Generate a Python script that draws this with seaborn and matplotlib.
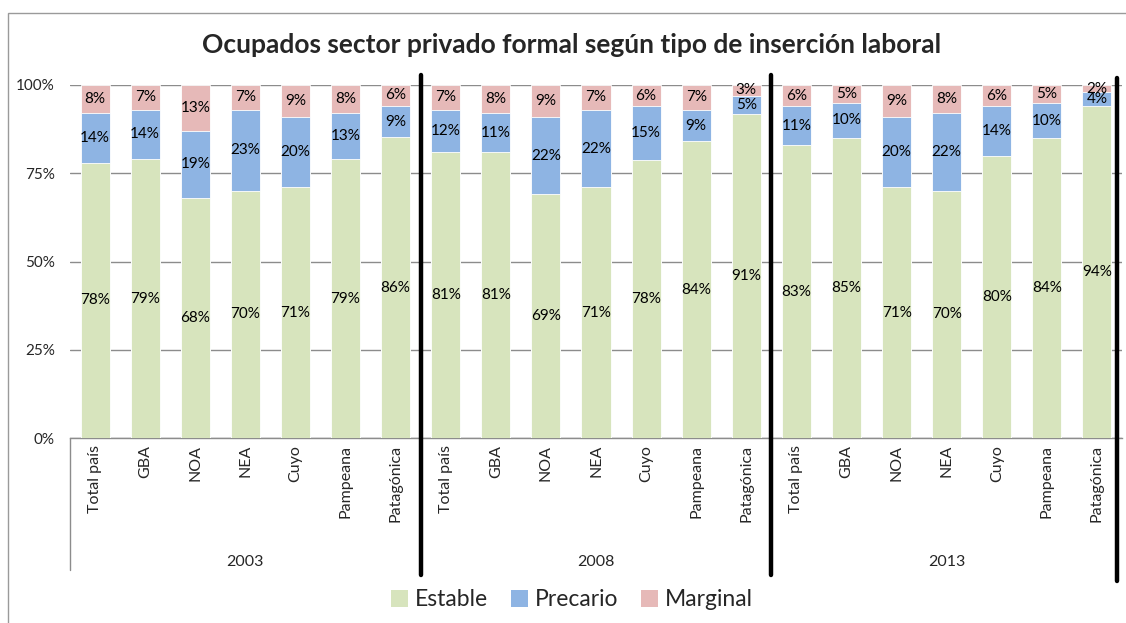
import numpy as np
import pandas as pd
import matplotlib
matplotlib.use("Agg")
import matplotlib.pyplot as plt
import seaborn as sns
from matplotlib.patches import Patch, Rectangle
from matplotlib.lines import Line2D

# ---------------- data ----------------
years = ["2003", "2008", "2013"]
regions = ["Total país", "GBA", "NOA", "NEA", "Cuyo", "Pampeana", "Patagónica"]
series = ["Estable", "Precario", "Marginal"]

estable_2003 = [78, 79, 68, 70, 71, 79, 86]
precario_2003 = [14, 14, 19, 23, 20, 13, 9]
marginal_2003 = [8, 7, 13, 7, 9, 8, 6]

estable_2008 = [81, 81, 69, 71, 78, 84, 91]
precario_2008 = [12, 11, 22, 22, 15, 9, 5]
marginal_2008 = [7, 8, 9, 7, 6, 7, 3]

estable_2013 = [83, 85, 71, 70, 80, 84, 94]
precario_2013 = [11, 10, 20, 22, 14, 10, 4]
marginal_2013 = [6, 5, 9, 8, 6, 5, 2]

yticks = [0, 25, 50, 75, 100]
ytick_labels = ["0%", "25%", "50%", "75%", "100%"]

title = "Ocupados sector privado formal según tipo de inserción laboral"

colors = {"Estable": "#D7E4BD", "Precario": "#8EB4E3", "Marginal": "#E6B9B8"}

# ---------------- build table (100% stacked) ----------------
est = {"2003": estable_2003, "2008": estable_2008, "2013": estable_2013}
pre = {"2003": precario_2003, "2008": precario_2008, "2013": precario_2013}
mar = {"2003": marginal_2003, "2008": marginal_2008, "2013": marginal_2013}

rows = []
for y in years:
    for i, r in enumerate(regions):
        rows.append({"key": f"{y}|{r}", "year": y, "region": r,
                     "Estable": est[y][i], "Precario": pre[y][i], "Marginal": mar[y][i]})
df = pd.DataFrame(rows)
tot = df["Estable"] + df["Precario"] + df["Marginal"]
df["cum_est"] = df["Estable"] / tot * 100
df["cum_pre"] = (df["Estable"] + df["Precario"]) / tot * 100
df["cum_mar"] = 100.0 * tot / tot
order = list(df["key"])

# ---------------- style ----------------
sns.set_theme(style="white")
plt.rcParams["font.family"] = ["Lato", "DejaVu Sans"]

fig = plt.figure(figsize=(11.26, 6.23), dpi=100)
ax = fig.add_axes([70 / 1126, 1 - 438 / 623, 1052 / 1126, 353 / 623])

bw = 0.58
for col, s in [("cum_mar", "Marginal"), ("cum_pre", "Precario"), ("cum_est", "Estable")]:
    sns.barplot(data=df, x="key", y=col, order=order, color=colors[s], saturation=1,
                width=bw, edgecolor="white", linewidth=0.6, ax=ax, errorbar=None, zorder=3)

# segment labels
for i, row in df.iterrows():
    edges = [0, row["cum_est"], row["cum_pre"], row["cum_mar"]]
    for k, s in enumerate(series):
        ax.text(i, (edges[k] + edges[k + 1]) / 2, f"{row[s]}%", ha="center", va="center",
                fontsize=11, color="black", zorder=5)

ax.set_xlim(-0.5, len(order) - 0.5)
ax.set_ylim(0, 100)
ax.set_yticks(yticks)
ax.set_yticklabels(ytick_labels, fontsize=11)
ax.yaxis.grid(True, color="#8C8C8C", linewidth=1, zorder=0)
ax.set_axisbelow(True)
ax.set_xticks(range(len(order)))
ax.set_xticklabels(list(df["region"]), rotation=90, fontsize=11.5, va="top", ha="center")
ax.tick_params(axis="y", length=0, pad=11)
ax.tick_params(axis="x", length=0, pad=5)
ax.set_xlabel("")
ax.set_ylabel("")
for sp in ["top", "right", "left"]:
    ax.spines[sp].set_visible(False)
ax.spines["bottom"].set_color("#8C8C8C")
ax.spines["bottom"].set_linewidth(1)

# group labels
n = len(regions)
for g, y in enumerate(years):
    ax.text(g * n + (n - 1) / 2, -0.351, y, transform=ax.get_xaxis_transform(),
            ha="center", va="center", fontsize=11.5)

# thin left divider
ax.add_line(Line2D([-0.5, -0.5], [0, -0.374], transform=ax.get_xaxis_transform(),
                   color="#8C8C8C", linewidth=1, clip_on=False))

# thick black separators
for xs, y0, y1 in [(6.5, -0.388, 1.028), (13.5, -0.388, 1.028), (20.4, -0.405, 1.02)]:
    ax.add_line(Line2D([xs, xs], [y0, y1], transform=ax.get_xaxis_transform(),
                       color="black", linewidth=3.2, clip_on=False, zorder=6))

# title
fig.text(0.508, 1 - 45 / 623, title, ha="center", va="center", fontsize=19, fontweight="bold")

# legend
handles = [Patch(facecolor=colors[s], edgecolor="none") for s in series]
fig.legend(handles, series, loc="center", bbox_to_anchor=(0.508, 1 - 600 / 623), ncol=3,
           frameon=False, fontsize=16.5, handlelength=0.75, handleheight=0.75,
           handletextpad=0.3, columnspacing=1.0)

# outer border
fig.add_artist(Rectangle((8 / 1126, -0.1), 1.2, 1.1 - 13 / 623, transform=fig.transFigure,
                         fill=False, edgecolor="#9A9A9A", linewidth=1))

fig.savefig("out.png", dpi=100)
